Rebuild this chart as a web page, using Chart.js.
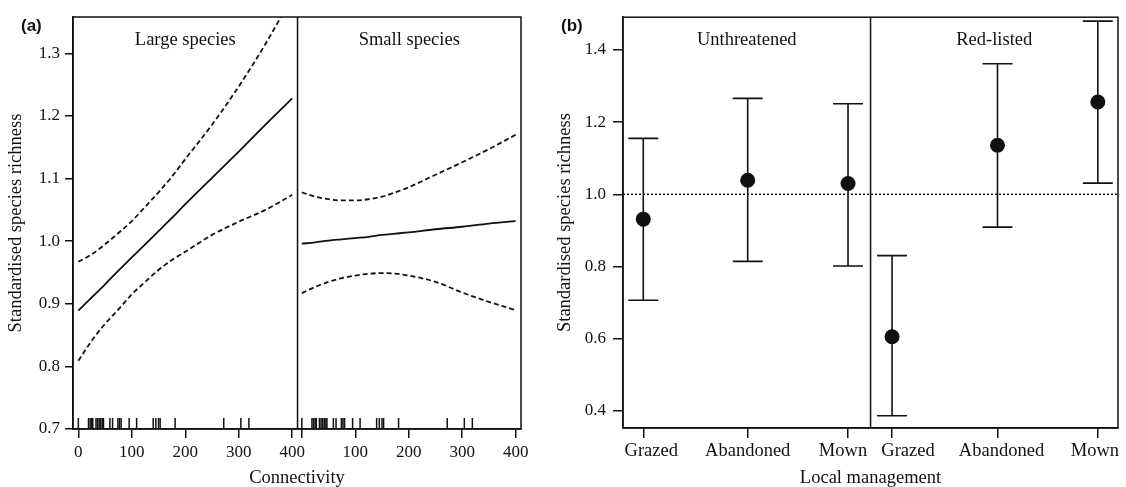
<!DOCTYPE html>
<html>
<head>
<meta charset="utf-8">
<script src="https://cdn.jsdelivr.net/npm/chart.js@4.4.1/dist/chart.umd.min.js"></script>
<style>
  html, body { margin: 0; padding: 0; background: #fff; }
  #wrap { position: relative; width: 1126px; height: 487px; }
  canvas { position: absolute; top: 0; }
  #chartA { left: 0; }
  #chartB { left: 540px; }
</style>
</head>
<body>
<div id="wrap">
  <canvas id="chartA" width="540" height="487"></canvas>
  <canvas id="chartB" width="586" height="487"></canvas>
</div>
<script>
// ---- (a) richness vs connectivity, fitted line with 95% band ----
const connectivity = [0, 25, 50, 75, 100, 125, 150, 175, 200, 250, 300, 350, 400];
const largeFit   = [0.889, 0.910, 0.931, 0.953, 0.974, 0.995, 1.016, 1.037, 1.059, 1.101, 1.143, 1.186, 1.228];
const largeUpper = [0.967, 0.979, 0.995, 1.013, 1.032, 1.055, 1.078, 1.103, 1.131, 1.186, 1.247, 1.315, 1.390];
const largeLower = [0.809, 0.841, 0.868, 0.891, 0.915, 0.935, 0.954, 0.970, 0.983, 1.010, 1.031, 1.050, 1.074];
const smallFit   = [0.996, 0.998, 1.001, 1.003, 1.005, 1.007, 1.010, 1.012, 1.014, 1.019, 1.023, 1.028, 1.032];
const smallUpper = [1.078, 1.071, 1.067, 1.065, 1.065, 1.067, 1.071, 1.078, 1.086, 1.106, 1.126, 1.147, 1.170];
const smallLower = [0.917, 0.927, 0.935, 0.941, 0.945, 0.948, 0.949, 0.948, 0.945, 0.935, 0.918, 0.903, 0.890];
// observed connectivity of the sites (rug)
const siteConnectivity = [0, 19, 22, 25, 27, 33, 36, 39, 42, 45, 47, 59, 64, 74, 77, 80, 95, 109,
                          140, 145, 150, 153, 181, 272, 304, 319];
const connTicks = [0, 100, 200, 300, 400];
const richTicksA = [0.7, 0.8, 0.9, 1.0, 1.1, 1.2, 1.3];
const sizeGroups = ['Large species', 'Small species'];

// ---- (b) richness by local management ----
const threatGroups = ['Unthreatened', 'Red-listed'];
const management = ['Grazed', 'Abandoned', 'Mown', 'Grazed', 'Abandoned', 'Mown'];
const groupPos = [1, 2.02, 3, 3.43, 4.46, 5.44];
const meanRichness = [0.931, 1.039, 1.030, 0.605, 1.136, 1.256];
const lowerCI = [0.706, 0.814, 0.801, 0.386, 0.909, 1.031];
const upperCI = [1.155, 1.266, 1.251, 0.830, 1.362, 1.480];
const richTicksB = [0.4, 0.6, 0.8, 1.0, 1.2, 1.4];

const INK = '#111';
const SERIF = '"Liberation Serif", "Times New Roman", serif';
const TEXT_SIZE = 18.5;
const NUM_SIZE = 17;
Chart.defaults.font.family = SERIF;
Chart.defaults.color = INK;

const SHIFT = 418;          // right sub-panel of (a) shares one x scale
const divA = 410, divB = 3.22;
// management labels sit a little off their ticks so neighbours don't collide
const labelNudge = [8, 0, -5, 16, 4, -3];

// frame, divider, rug, headings, panel letter and (b) category labels
const panelDecor = {
  id: 'panelDecor',
  afterDraw(chart, args, opts) {
    const { ctx, chartArea: a } = chart;
    const xs = chart.scales.x;
    const xd = xs.getPixelForValue(opts.divider);
    ctx.save();
    ctx.strokeStyle = INK;
    ctx.lineWidth = 1.5;
    ctx.strokeRect(a.left, a.top, a.right - a.left, a.bottom - a.top);
    ctx.beginPath();
    ctx.moveTo(xd, a.top);
    ctx.lineTo(xd, a.bottom);
    ctx.stroke();

    (opts.rug || []).forEach(v => {
      const px = xs.getPixelForValue(v);
      ctx.beginPath();
      ctx.moveTo(px, a.bottom);
      ctx.lineTo(px, a.bottom - 11);
      ctx.stroke();
    });

    ctx.fillStyle = INK;
    ctx.font = TEXT_SIZE + 'px ' + SERIF;
    ctx.textAlign = 'center';
    ctx.textBaseline = 'middle';
    opts.headings.forEach((h, i) => {
      const x0 = i === 0 ? a.left : xd;
      const x1 = i === 0 ? xd : a.right;
      ctx.fillText(h, (x0 + x1) / 2, a.top + 23);
    });

    (opts.catLabels || []).forEach((lab, i) => {
      ctx.fillText(lab, xs.getPixelForValue(opts.catPos[i]) + labelNudge[i], a.bottom + 23);
    });

    ctx.font = 'bold 17px "Liberation Sans", Arial, sans-serif';
    ctx.textAlign = 'left';
    ctx.fillText(opts.tag, 21, 26);
    ctx.restore();
  }
};

function curve(xv, yv, shift, dash) {
  return {
    data: xv.map((c, i) => ({ x: c + shift, y: yv[i] })),
    borderColor: INK,
    borderWidth: 1.8,
    borderDash: dash,
    pointRadius: 0,
    cubicInterpolationMode: 'monotone',
    fill: false
  };
}

function axisStyle(tickLen) {
  return {
    grid: { drawOnChartArea: false, drawTicks: true, tickLength: tickLen, color: INK, lineWidth: 1.5 },
    border: { display: true, color: INK, width: 1.5 }
  };
}

function fixSize(prop, size) {
  return s => { s[prop] = size; s.paddingLeft = 0; s.paddingRight = 0; };
}

const datasetsA = [
  curve(connectivity, largeFit, 0, []),
  curve(connectivity, largeUpper, 0, [5, 3]),
  curve(connectivity, largeLower, 0, [5, 3]),
  curve(connectivity, smallFit, SHIFT, []),
  curve(connectivity, smallUpper, SHIFT, [5, 3]),
  curve(connectivity, smallLower, SHIFT, [5, 3])
];

new Chart(document.getElementById('chartA'), {
  type: 'line',
  data: { datasets: datasetsA },
  options: {
    responsive: false,
    animation: false,
    layout: { autoPadding: false, padding: { left: 0, right: 19, top: 17, bottom: 0 } },
    plugins: {
      legend: { display: false },
      tooltip: { enabled: false },
      panelDecor: {
        tag: '(a)',
        divider: divA,
        headings: sizeGroups,
        rug: siteConnectivity.concat(siteConnectivity.map(v => v + SHIFT))
      }
    },
    scales: {
      x: {
        type: 'linear',
        min: -10,
        max: 828,
        ...axisStyle(9),
        afterBuildTicks: s => { s.ticks = connTicks.concat(connTicks.map(v => v + SHIFT)).map(v => ({ value: v })); },
        afterFit: fixSize('height', 58),
        ticks: {
          padding: 4,
          font: { size: NUM_SIZE },
          maxRotation: 0,
          autoSkip: false,
          callback: v => (v === SHIFT ? '' : String(v >= SHIFT ? v - SHIFT : v))
        },
        title: { display: true, text: 'Connectivity', font: { size: TEXT_SIZE, lineHeight: 1 }, padding: { top: 0, bottom: 0 } }
      },
      y: {
        min: 0.7,
        max: 1.358,
        ...axisStyle(8),
        afterBuildTicks: s => { s.ticks = richTicksA.map(v => ({ value: v })); },
        afterFit: s => { s.width = 73; },
        ticks: { padding: 5, font: { size: NUM_SIZE }, callback: v => v.toFixed(1) },
        title: { display: true, text: 'Standardised species richness', font: { size: TEXT_SIZE }, padding: { top: 5, bottom: 0 } }
      }
    }
  },
  plugins: [panelDecor]
});

// ---- (b) ----
const xMinB = 0.802, xMaxB = 5.637;
const datasetsB = [
  {
    data: [{ x: xMinB, y: 1 }, { x: xMaxB, y: 1 }],
    showLine: true,
    borderColor: INK,
    borderWidth: 1.5,
    borderDash: [2, 2],
    pointRadius: 0
  }
].concat(groupPos.map((p, i) => ({
  data: [{ x: p, y: lowerCI[i] }, { x: p, y: upperCI[i] }],
  showLine: true,
  borderColor: INK,
  borderWidth: 1.6,
  pointStyle: 'line',
  pointRadius: 15,
  pointBorderWidth: 1.6,
  pointBorderColor: INK
}))).concat([{
  data: groupPos.map((p, i) => ({ x: p, y: meanRichness[i] })),
  showLine: false,
  pointStyle: 'circle',
  pointRadius: 7.5,
  pointBackgroundColor: INK,
  pointBorderColor: INK,
  pointBorderWidth: 0
}]);

new Chart(document.getElementById('chartB'), {
  type: 'scatter',
  data: { datasets: datasetsB },
  options: {
    responsive: false,
    animation: false,
    layout: { autoPadding: false, padding: { left: 0, right: 8, top: 17, bottom: 0 } },
    plugins: {
      legend: { display: false },
      tooltip: { enabled: false },
      panelDecor: {
        tag: '(b)',
        divider: divB,
        headings: threatGroups,
        catLabels: management,
        catPos: groupPos
      }
    },
    scales: {
      x: {
        type: 'linear',
        min: xMinB,
        max: xMaxB,
        ...axisStyle(10),
        afterBuildTicks: s => { s.ticks = groupPos.map(v => ({ value: v })); },
        afterFit: fixSize('height', 59),
        ticks: {
          padding: 3,
          font: { size: TEXT_SIZE },
          maxRotation: 0,
          autoSkip: false,
          callback: () => ''
        },
        title: { display: true, text: 'Local management', font: { size: TEXT_SIZE, lineHeight: 1 }, padding: { top: 0, bottom: 0 } }
      },
      y: {
        min: 0.352,
        max: 1.491,
        ...axisStyle(10),
        afterBuildTicks: s => { s.ticks = richTicksB.map(v => ({ value: v })); },
        afterFit: s => { s.width = 83; },
        ticks: { padding: 7, font: { size: NUM_SIZE }, callback: v => v.toFixed(1) },
        title: { display: true, text: 'Standardised species richness', font: { size: TEXT_SIZE }, padding: { top: 14, bottom: 0 } }
      }
    }
  },
  plugins: [panelDecor]
});
</script>
</body>
</html>
